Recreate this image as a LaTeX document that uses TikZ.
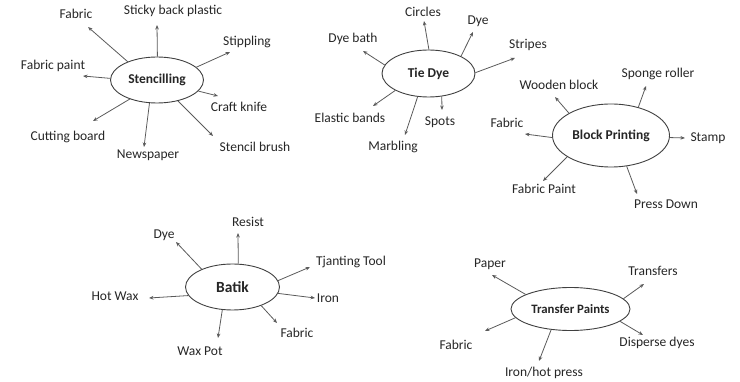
\documentclass[tikz,border=0pt]{standalone}
\usepackage{fontspec}
\setmainfont{Carlito}
\usetikzlibrary{shapes.geometric,arrows.meta}
\definecolor{txt}{HTML}{262626}
\definecolor{edge}{HTML}{404040}
\definecolor{lin}{HTML}{5A5A5A}
\begin{document}
\begin{tikzpicture}[x=1pt,y=-1pt,
  lbl/.style={font=\fontsize{13.5}{15}\selectfont, text=txt, inner sep=0pt},
  hub/.style={ellipse, draw=edge, line width=0.9pt, fill=white, inner sep=0pt,
    font=\bfseries\fontsize{13.5}{15}\selectfont, text=txt},
  arr/.style={draw=lin, line width=0.8pt, -{Stealth[length=4.5pt,width=3.6pt]}}]
\useasboundingbox (0,0) rectangle (740,382);

% Stencilling
\node[hub, minimum width=93pt, minimum height=46pt] (st) at (157,80) {Stencilling};
\foreach \n/\a/\lx/\ly/\ex/\ey/\t in {
  stA/148/76/14/88/27/Fabric,
  stB/89/173/11/157/25/Sticky back plastic,
  stC/18/247/42/230/52/Stippling,
  stD/178/53/66/83/76/Fabric paint,
  stE/-15/239/107/218/96/Craft knife,
  stF/215/68/137/93/121/Cutting board,
  stG/252/148/155/144/147/Newspaper,
  stH/-45/255/147/213/136/Stencil brush}
{ \node[lbl] (\n) at (\lx,\ly) {\t};
  \coordinate (\n-e) at (\ex,\ey);
  \draw[arr] (st.\a) -- (\n-e); }

% Tie Dye
\node[hub, minimum width=93pt, minimum height=47pt] (td) at (428.5,73.5) {Tie Dye};
\foreach \n/\a/\lx/\ly/\ex/\ey/\t in {
  tdA/89/423/12/424/21/Circles,
  tdB/28/478/21/473/32/Dye,
  tdC/169/353/39/363/51/Dye bath,
  tdD/1/528/45/515/58/Stripes,
  tdE/207/350/118/373/106/Elastic bands,
  tdF/-60/440/122/442/110/Spots,
  tdG/245/393/147/405/135/Marbling}
{ \node[lbl] (\n) at (\lx,\ly) {\t};
  \coordinate (\n-e) at (\ex,\ey);
  \draw[arr] (td.\a) -- (\n-e); }

% Block Printing
\node[hub, minimum width=117pt, minimum height=63pt] (bp) at (611,135.5) {Block Printing};
\foreach \n/\a/\lx/\ly/\ex/\ey/\t in {
  bpA/46/658/74/646/86/Sponge roller,
  bpB/152/559/85/555/97/Wooden block,
  bpC/182/507/123/525/134/Fabric,
  bpD/-2/708/138/685/138/Stamp,
  bpE/206/544/189/543/181/Fabric Paint,
  bpF/-63/666/204/637/194/Press Down}
{ \node[lbl] (\n) at (\lx,\ly) {\t};
  \coordinate (\n-e) at (\ex,\ey);
  \draw[arr] (bp.\a) -- (\n-e); }

% Batik
\node[hub, minimum width=94pt, minimum height=46pt,
  font=\bfseries\fontsize{15.5}{17}\selectfont] (bt) at (232.5,287) {Batik};
\foreach \n/\a/\lx/\ly/\ex/\ey/\t in {
  btA/76/248/222/238/233/Resist,
  btB/150/164/235/176/242/Dye,
  btC/8/351/262/310/267/Tjanting Tool,
  btD/-8/328/298/315/298/Iron,
  btE/191/115/296/149/298/Hot Wax,
  btF/-33/297/333/277/323/Fabric,
  btG/246/200/351/218/338/Wax Pot}
{ \node[lbl] (\n) at (\lx,\ly) {\t};
  \coordinate (\n-e) at (\ex,\ey);
  \draw[arr] (bt.\a) -- (\n-e); }

% Transfer Paints
\node[hub, minimum width=119pt, minimum height=43pt,
  font=\bfseries\fontsize{12.8}{14}\selectfont] (tp) at (570.5,309) {Transfer Paints};
\foreach \n/\a/\lx/\ly/\ex/\ey/\t in {
  tpA/162/490/264/492/275/Paper,
  tpB/11/653/271/644/284/Transfers,
  tpC/189/456/345/485/331/Fabric,
  tpD/-14/657/343/643/335/Disperse dyes,
  tpE/227/544/373/539/361/{Iron/hot press}}
{ \node[lbl] (\n) at (\lx,\ly) {\t};
  \coordinate (\n-e) at (\ex,\ey);
  \draw[arr] (tp.\a) -- (\n-e); }
\end{tikzpicture}
\end{document}
